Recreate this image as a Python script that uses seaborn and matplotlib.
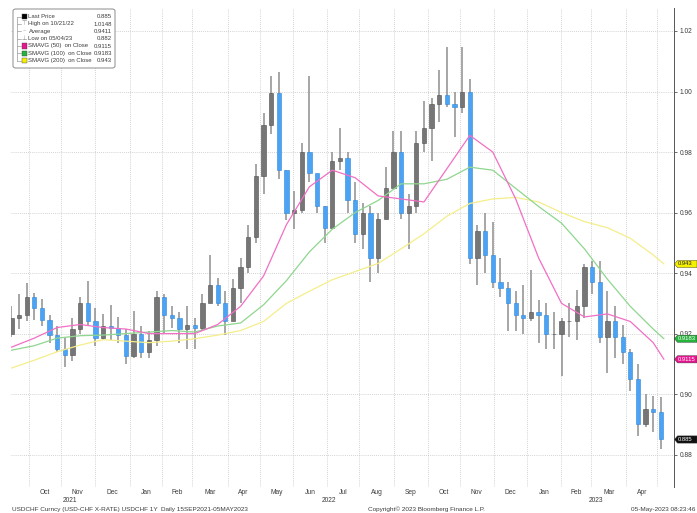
import numpy as np
import pandas as pd
import matplotlib
matplotlib.use("Agg")
import matplotlib.pyplot as plt
import matplotlib.transforms as mtransforms
from matplotlib.patches import Polygon, Rectangle, FancyBboxPatch
import seaborn as sns

# ─── data (weekly OHLC, USDCHF 15SEP2021-05MAY2023) ───
START = "2021-09-15"
END = "2023-05-05"
week_mondays = pd.date_range("2021-09-13", periods=86, freq="7D")
first_open = 0.9200

week_high = [
    0.9290, 0.9330, 0.9368, 0.9335, 0.9315, 0.9260, 0.9225, 0.9185, 0.9250, 0.9320,
    0.9375, 0.9285, 0.9265, 0.9295, 0.9255, 0.9215, 0.9275, 0.9225, 0.9210, 0.9340,
    0.9330, 0.9290, 0.9270, 0.9290, 0.9250, 0.9330, 0.9460, 0.9385, 0.9340, 0.9380,
    0.9450, 0.9560, 0.9760, 0.9930, 1.0050, 1.0064, 0.9740, 0.9670, 0.9830, 1.0050,
    0.9720, 0.9620, 0.9800, 0.9880, 0.9800, 0.9700, 0.9630, 0.9620, 0.9600, 0.9750,
    0.9870, 0.9870, 0.9660, 0.9870, 0.9970, 0.9980, 1.0070, 1.0148, 1.0000, 1.0147,
    1.0040, 0.9560, 0.9600, 0.9570, 0.9450, 0.9370, 0.9340, 0.9360, 0.9410, 0.9310,
    0.9300, 0.9270, 0.9250, 0.9300, 0.9345, 0.9430, 0.9440, 0.9440, 0.9340, 0.9290,
    0.9230, 0.9150, 0.9100, 0.9000, 0.8995, 0.8990]
week_low = [
    0.9190, 0.9215, 0.9240, 0.9245, 0.9225, 0.9170, 0.9140, 0.9090, 0.9110, 0.9200,
    0.9230, 0.9160, 0.9180, 0.9180, 0.9170, 0.9100, 0.9120, 0.9120, 0.9120, 0.9160,
    0.9200, 0.9220, 0.9170, 0.9150, 0.9150, 0.9210, 0.9300, 0.9290, 0.9195, 0.9240,
    0.9300, 0.9400, 0.9500, 0.9660, 0.9860, 0.9710, 0.9575, 0.9545, 0.9600, 0.9700,
    0.9600, 0.9500, 0.9550, 0.9740, 0.9600, 0.9500, 0.9480, 0.9370, 0.9400, 0.9580,
    0.9680, 0.9580, 0.9480, 0.9600, 0.9800, 0.9770, 0.9900, 0.9950, 0.9850, 0.9930,
    0.9430, 0.9360, 0.9400, 0.9350, 0.9320, 0.9210, 0.9210, 0.9200, 0.9240, 0.9170,
    0.9150, 0.9150, 0.9060, 0.9190, 0.9180, 0.9250, 0.9330, 0.9170, 0.9070, 0.9120,
    0.9100, 0.9010, 0.8860, 0.8890, 0.8875, 0.8820]
week_close = [
    0.9250, 0.9260, 0.9320, 0.9285, 0.9245, 0.9195, 0.9150, 0.9130, 0.9215, 0.9300,
    0.9240, 0.9185, 0.9225, 0.9220, 0.9195, 0.9125, 0.9200, 0.9140, 0.9180, 0.9320,
    0.9260, 0.9250, 0.9215, 0.9230, 0.9220, 0.9300, 0.9360, 0.9300, 0.9240, 0.9350,
    0.9420, 0.9520, 0.9720, 0.9890, 0.9995, 0.9740, 0.9600, 0.9610, 0.9800, 0.9730,
    0.9620, 0.9550, 0.9770, 0.9780, 0.9640, 0.9530, 0.9600, 0.9450, 0.9580, 0.9680,
    0.9800, 0.9600, 0.9620, 0.9830, 0.9880, 0.9960, 0.9990, 0.9960, 0.9950, 1.0000,
    0.9450, 0.9540, 0.9460, 0.9370, 0.9350, 0.9300, 0.9260, 0.9250, 0.9270, 0.9260,
    0.9200, 0.9200, 0.9240, 0.9240, 0.9290, 0.9420, 0.9370, 0.9190, 0.9240, 0.9190,
    0.9140, 0.9050, 0.8900, 0.8950, 0.8940, 0.8850]

# moving averages sampled off the chart
ma_dates = [
    "2021-09-15", "2021-10-06", "2021-10-27", "2021-11-17", "2021-12-08", "2021-12-29",
    "2022-01-19", "2022-02-09", "2022-03-02", "2022-03-23", "2022-04-13", "2022-05-04",
    "2022-05-25", "2022-06-15", "2022-07-06", "2022-07-27", "2022-08-17", "2022-09-07",
    "2022-09-28", "2022-10-19", "2022-11-09", "2022-11-30", "2022-12-21", "2023-01-11",
    "2023-02-01", "2023-02-22", "2023-03-15", "2023-04-05", "2023-04-26", "2023-05-05"]
sma50 = [
    0.9155, 0.9185, 0.9220, 0.9230, 0.9220, 0.9215, 0.9200, 0.9200, 0.9200, 0.9230,
    0.9290, 0.9390, 0.9560, 0.9685, 0.9740, 0.9715, 0.9655, 0.9645, 0.9635, 0.9745,
    0.9855, 0.9800, 0.9645, 0.9450, 0.9300, 0.9255, 0.9265, 0.9240, 0.9170, 0.9115]
sma100 = [
    0.9145, 0.9160, 0.9185, 0.9193, 0.9195, 0.9200, 0.9205, 0.9210, 0.9205, 0.9225,
    0.9235, 0.9295, 0.9375, 0.9470, 0.9545, 0.9600, 0.9640, 0.9695, 0.9695, 0.9710,
    0.9750, 0.9740, 0.9680, 0.9620, 0.9565, 0.9480, 0.9380, 0.9290, 0.9215, 0.9183]
sma200 = [
    0.9086, 0.9112, 0.9140, 0.9162, 0.9180, 0.9175, 0.9170, 0.9175, 0.9183, 0.9195,
    0.9210, 0.9240, 0.9300, 0.9340, 0.9378, 0.9405, 0.9432, 0.9480, 0.9530, 0.9588,
    0.9630, 0.9645, 0.9650, 0.9635, 0.9600, 0.9570, 0.9550, 0.9515, 0.9460, 0.9430]

legend_rows = [
    ("Last Price", "0.885"),
    ("High on 10/21/22", "1.0148"),
    ("Average", "0.9411"),
    ("Low on 05/04/23", "0.882"),
    ("SMAVG (50)  on Close", "0.9115"),
    ("SMAVG (100)  on Close", "0.9183"),
    ("SMAVG (200)  on Close", "0.943"),
]
y_ticks = [0.88, 0.90, 0.92, 0.94, 0.96, 0.98, 1.00, 1.02]

# ─── style ───
sns.set_style("white")
plt.rcParams['font.family'] = ['Liberation Sans', 'DejaVu Sans']
TXT = '#3c3c3c'
C50, C100, C200 = '#f26fc4', '#8fd68f', '#f4ee8a'
T50, T100, T200 = '#e6158f', '#26b33c', '#f5f000'

W, H = 697, 513
def fx(px):
    return px / W
def fy(py):
    return 1 - py / H

def bidx(d):
    return int(np.busday_count(START, np.datetime64(pd.Timestamp(d).date())))

fig = plt.figure(figsize=(6.97, 5.13), dpi=100)
ax = fig.add_axes([fx(10.6), fy(487), fx(674) - fx(10.6), fy(8) - fy(487)])

# ─── candles ───
opens = [first_open] + week_close[:-1]
xs = [bidx(m + pd.Timedelta(days=2)) for m in week_mondays]
for x, o, h, l, c in zip(xs, opens, week_high, week_low, week_close):
    ax.vlines(x, l, h, color='#8e8e8e', lw=1.1, zorder=2)
    if c >= o:
        ax.add_patch(Rectangle((x - 1.4, o), 2.8, c - o, facecolor='#767676',
                               edgecolor='#4e4e4e', lw=0.4, zorder=3))
    else:
        ax.add_patch(Rectangle((x - 1.4, c), 2.8, o - c, facecolor='#4aa3f5',
                               edgecolor='#2f86d8', lw=0.4, zorder=3))

# ─── moving averages ───
ma_df = pd.DataFrame({'x': [bidx(d) for d in ma_dates],
                      'sma50': sma50, 'sma100': sma100, 'sma200': sma200})
sns.lineplot(data=ma_df, x='x', y='sma200', ax=ax, color=C200, lw=0.9, zorder=4)
sns.lineplot(data=ma_df, x='x', y='sma100', ax=ax, color=C100, lw=0.9, zorder=4)
sns.lineplot(data=ma_df, x='x', y='sma50', ax=ax, color=C50, lw=0.9, zorder=4)

# ─── axes ───
x_end = bidx(END)
ax.set_xlim(-0.5, 433.6)
ax.set_ylim(0.8693, 1.0276)
ax.set_xlabel('')
ax.set_ylabel('')

months = pd.date_range("2021-10-01", "2023-05-01", freq="MS")
bounds = [bidx(m) - 0.5 for m in months]
ax.set_xticks(bounds)
ax.set_xticklabels([])
ax.tick_params(axis='x', length=0)
ax.grid(True, axis='x', color='#c4c4c4', lw=0.6, ls=(0, (1, 1.5)))

ax.yaxis.tick_right()
ax.set_yticks(y_ticks)
ax.set_yticklabels([f'{v:.2f}' for v in y_ticks], fontsize=4.8, color=TXT)
ax.tick_params(axis='y', length=2.5, width=0.6, color='#555555', pad=1.5)
ax.grid(True, axis='y', color='#c4c4c4', lw=0.6, ls=(0, (1, 1.5)))
for s in ['left', 'top', 'bottom']:
    ax.spines[s].set_visible(False)
ax.spines['right'].set_color('#555555')
ax.spines['right'].set_linewidth(0.7)

# month labels centred in each month, year labels centred in each year span
lab_tr = mtransforms.blended_transform_factory(ax.transData, fig.transFigure)
all_b = [-0.5] + bounds + [x_end + 0.5]
all_m = [pd.Timestamp("2021-09-01")] + list(months)
for i, m in enumerate(all_m[1:-1], start=1):
    xc = (all_b[i] + all_b[i + 1]) / 2
    ax.text(xc, fy(493), m.strftime('%b'), transform=lab_tr, fontsize=4.8,
            color=TXT, ha='center', va='center')
year_span = {2021: (-0.5, bidx("2022-01-01") - 0.5),
             2022: (bidx("2022-01-01") - 0.5, bidx("2023-01-01") - 0.5),
             2023: (bidx("2023-01-01") - 0.5, x_end + 0.5)}
for yr, (a, b) in year_span.items():
    ax.text((a + b) / 2, fy(500.5), str(yr), transform=lab_tr, fontsize=4.8,
            color=TXT, ha='center', va='center')

# ─── right-hand value tags ───
tag_tr = mtransforms.blended_transform_factory(fig.transFigure, ax.transData)
h = 3.6 / 3025
for val, txt, fc, tc in [(0.943, '0.943', T200, '#222222'),
                         (0.9183, '0.9183', T100, 'white'),
                         (0.9115, '0.9115', T50, 'white'),
                         (0.885, '0.885', '#111111', 'white')]:
    poly = Polygon([(fx(674.5), val), (fx(677.5), val + h), (fx(697), val + h),
                    (fx(697), val - h), (fx(677.5), val - h)], closed=True,
                   facecolor=fc, edgecolor='#333333', lw=0.3,
                   transform=tag_tr, clip_on=False, zorder=10)
    ax.add_patch(poly)
    ax.text(fx(678), val, txt, transform=tag_tr, fontsize=4.2, color=tc,
            ha='left', va='center', zorder=11, clip_on=False)

# ─── legend box ───
fig.patches.append(FancyBboxPatch((fx(13), fy(68)), fx(115) - fx(13), fy(9) - fy(68),
                                  boxstyle='round,pad=0,rounding_size=0.004',
                                  facecolor='white', edgecolor='#8a8a8a', lw=0.7,
                                  transform=fig.transFigure, figure=fig, zorder=5))
row_y = [16.5, 24.0, 31.3, 38.7, 46.0, 53.3, 60.7]
fig.add_artist(plt.Line2D([fx(16.5), fx(16.5)], [fy(16.5), fy(60.7)],
                          color='#9a9a9a', lw=0.5, zorder=6))
marks = ['#000000', None, None, None, T50, T100, T200]
syms = [None, '⊤', '–', '⊥', None, None, None]
for (name, value), yy, mc, sym in zip(legend_rows, row_y, marks, syms):
    fig.add_artist(plt.Line2D([fx(16.5), fx(20.5)], [fy(yy), fy(yy)],
                              color='#9a9a9a', lw=0.5, zorder=6))
    if mc is not None:
        fig.patches.append(Rectangle((fx(21.5), fy(yy + 2.6)), fx(5.2), 5.2 / H,
                                     facecolor=mc, edgecolor='#444444', lw=0.3,
                                     transform=fig.transFigure, figure=fig, zorder=6))
    else:
        fig.text(fx(24), fy(yy), sym, fontsize=4.5, color='#8a8a8a', ha='center',
                 va='center', family=['DejaVu Sans'], zorder=6)
    fig.text(fx(28.5), fy(yy), name, fontsize=4.3, color=TXT, ha='left',
             va='center', zorder=6)
    fig.text(fx(112), fy(yy), value, fontsize=4.3, color=TXT, ha='right',
             va='center', zorder=6)

# ─── footer ───
fig.text(fx(12), fy(509.5), 'USDCHF Curncy (USD-CHF X-RATE) USDCHF 1Y  Daily 15SEP2021-05MAY2023',
         fontsize=4.6, color=TXT, ha='left', va='center')
fig.text(fx(426), fy(509.5), 'Copyright© 2023 Bloomberg Finance L.P.', fontsize=4.6,
         color=TXT, ha='center', va='center')
fig.text(fx(695), fy(509.5), '05-May-2023 08:23:46', fontsize=4.6, color=TXT,
         ha='right', va='center')

fig.savefig('out.png', dpi=100, facecolor='white')
